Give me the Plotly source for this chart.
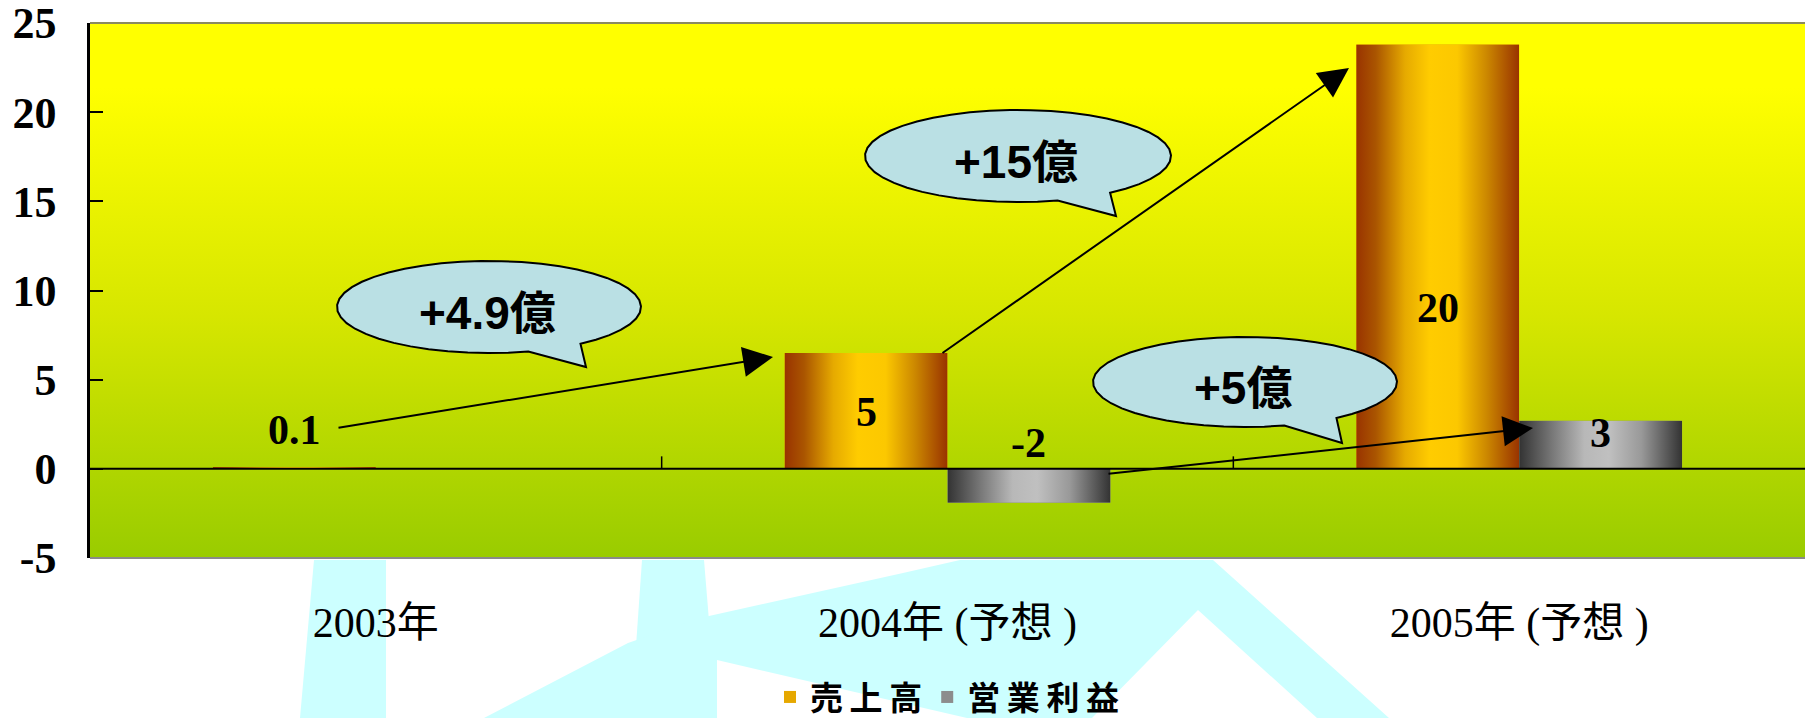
import base64
import math
import plotly.graph_objects as go

# ---------------- data ----------------
categories = ["2003年", "2004年 (予想 )", "2005年 (予想 )"]
series_names = ["売\u2009上\u2009高", "営\u2009業\u2009利\u2009益"]
sales = [0.1, 6.5, 23.8]
profit = [None, -1.9, 2.7]
sales_labels = ["0.1", "5", "20"]
profit_labels = ["", "-2", "3"]
callout_texts = ["+4.9億", "+15億", "+5億"]
y_ticks = [-5, 0, 5, 10, 15, 20, 25]
y_tick_text = ["-5", "0", "5", "10", "15", "20", "25"]

# ---------------- geometry / style ----------------
W, H = 1805, 718
L, R, T, B = 90, 0, 23, 160
PW, PH = W - L - R, H - T - B
XR = (-0.5, 2.5)
YR = (-5, 25)
BARGAP = 0.43
BW = (1 - BARGAP) / 2  # width of one bar in category units

SERIF = "Liberation Serif, 'Times New Roman', 'Noto Sans CJK JP', serif"
SANS = "'Liberation Sans', Arial, 'Noto Sans CJK JP', sans-serif"


def dx(px):
    return XR[0] + (px - L) / PW * (XR[1] - XR[0])


def dy(py):
    return YR[1] - (py - T) / PH * (YR[1] - YR[0])


def ppx(px):
    return (px - L) / PW


def ppy(py):
    return (H - B - py) / PH


def grad_uri(stops, horizontal=True):
    x2, y2 = ("1", "0") if horizontal else ("0", "1")
    s = ('<svg xmlns="http://www.w3.org/2000/svg" width="100" height="100" '
         'viewBox="0 0 100 100" preserveAspectRatio="none"><defs>'
         f'<linearGradient id="g" x1="0" y1="0" x2="{x2}" y2="{y2}">')
    s += "".join(f'<stop offset="{o}" stop-color="{c}"/>' for o, c in stops)
    s += '</linearGradient></defs><rect x="0" y="0" width="100" height="100" fill="url(#g)"/></svg>'
    return "data:image/svg+xml;base64," + base64.b64encode(s.encode()).decode()


bg_grad = grad_uri([(0, "#FFFF00"), (0.12, "#FFFF00"), (0.55, "#D6E600"), (1, "#99CC00")], horizontal=False)
gold_grad = grad_uri([(0, "#993300"), (0.12, "#AA5500"), (0.3, "#E6AA00"), (0.45, "#FFCC00"),
                      (0.62, "#FCC800"), (0.8, "#CC8800"), (1, "#993300")])
gray_grad = grad_uri([(0, "#333333"), (0.2, "#777777"), (0.4, "#B8B8B8"), (0.55, "#C0C0C0"),
                      (0.75, "#999999"), (1, "#333333")])

x_idx = list(range(len(categories)))

fig = go.Figure()
fig.add_bar(x=x_idx, y=sales, name=series_names[0], marker=dict(color="#E6A800", line_width=0))
fig.add_bar(x=x_idx, y=profit, name=series_names[1], marker=dict(color="#8C8C8C", line_width=0))

images = [dict(source=bg_grad, xref="paper", yref="paper", x=0, y=1, sizex=1, sizey=1,
               xanchor="left", yanchor="top", sizing="stretch", layer="below")]
for i, v in enumerate(sales):
    if v:
        images.append(dict(source=gold_grad, xref="x", yref="y", x=i - BW, y=max(v, 0),
                           sizex=BW, sizey=abs(v), xanchor="left", yanchor="top",
                           sizing="stretch", layer="above"))
for i, v in enumerate(profit):
    if v:
        images.append(dict(source=gray_grad, xref="x", yref="y", x=i, y=max(v, 0),
                           sizex=BW, sizey=abs(v), xanchor="left", yanchor="top",
                           sizing="stretch", layer="above"))

shapes = []
# watermark (light cyan) in the bottom margin
wm_polys = [
    [(314, 560), (386, 560), (386, 718), (300, 718)],
    [(642, 560), (704, 560), (717, 718), (631, 718)],
    [(484, 718), (628, 643), (700, 618), (903, 573), (960, 560), (1213, 560), (1389, 718),
     (1317, 718), (1198, 610), (1092, 718), (967, 718), (717, 660), (717, 718)],
]
for poly in wm_polys:
    path = "M" + " L".join(f"{ppx(a):.5f},{ppy(b):.5f}" for a, b in poly) + " Z"
    shapes.append(dict(type="path", path=path, xref="paper", yref="paper",
                       fillcolor="#CCFFFF", line=dict(width=0), layer="below"))

# plot frame lines
shapes.append(dict(type="line", xref="paper", yref="paper", x0=0, x1=1, y0=1, y1=1,
                   line=dict(color="#8A8A60", width=2), layer="above"))
shapes.append(dict(type="line", xref="paper", yref="paper", x0=0, x1=1, y0=0, y1=0,
                   line=dict(color="#8A8A8A", width=2), layer="above"))
# zero line and category separator ticks
shapes.append(dict(type="line", xref="paper", yref="y", x0=0, x1=1, y0=0, y1=0,
                   line=dict(color="black", width=2), layer="above"))
for k in range(1, len(categories)):
    shapes.append(dict(type="line", xref="x", yref="y", x0=k - 0.5, x1=k - 0.5, y0=0, y1=0.7,
                       line=dict(color="black", width=1.5), layer="above"))


def bubble_path(cx, cy, rx, ry, tip, t1=53, t2=75, n=44):
    pts = []
    for j in range(n + 1):
        a = math.radians(t2 + (360 - (t2 - t1)) * j / n)
        pts.append((cx + rx * math.cos(a), cy + ry * math.sin(a)))
    pts.append(tip)
    return "M" + " L".join(f"{dx(a):.5f},{dy(b):.5f}" for a, b in pts) + " Z"


bubbles = [  # cx, cy, rx, ry, tip  (pixel layout of callouts)
    (489, 307, 152, 46, (586, 367)),
    (1018, 156, 153, 46, (1116, 216)),
    (1245, 382, 152, 45, (1342, 443)),
]
annotations = []
for (cx, cy, rx, ry, tip), txt in zip(bubbles, callout_texts):
    shapes.append(dict(type="path", path=bubble_path(cx, cy, rx, ry, tip), xref="x", yref="y",
                       fillcolor="#BAE0E4", line=dict(color="black", width=2), layer="above"))
    annotations.append(dict(x=dx(cx - 2), y=dy(cy + 6), xref="x", yref="y", text=f"<b>{txt}</b>",
                            showarrow=False, font=dict(family=SANS, size=46, color="black")))

# arrows (start -> tip), pixel layout
arrows = [((337, 428), (773, 357)), ((941, 354), (1349, 68)), ((1107, 474), (1533, 428))]
for (sx, sy), (tx, ty) in arrows:
    annotations.append(dict(x=dx(tx), y=dy(ty), ax=dx(sx), ay=dy(sy), xref="x", yref="y",
                            axref="x", ayref="y", text="", showarrow=True, arrowhead=2,
                            arrowsize=3, arrowwidth=2, arrowcolor="black", standoff=0))

# value labels
sales_label_y = [2.2, 3.2, 9.0]
profit_label_y = [None, 1.45, 2.0]
for i, (t, yy) in enumerate(zip(sales_labels, sales_label_y)):
    if t:
        annotations.append(dict(x=i - BW / 2, y=yy, xref="x", yref="y", text=f"<b>{t}</b>",
                                showarrow=False, font=dict(family=SERIF, size=42, color="black")))
for i, (t, yy) in enumerate(zip(profit_labels, profit_label_y)):
    if t:
        annotations.append(dict(x=i + BW / 2, y=yy, xref="x", yref="y", text=f"<b>{t}</b>",
                                showarrow=False, font=dict(family=SERIF, size=42, color="black")))

fig.update_layout(
    width=W, height=H,
    margin=dict(l=L, r=R, t=T, b=B, pad=0, autoexpand=False),
    paper_bgcolor="white", plot_bgcolor="rgba(0,0,0,0)",
    barmode="group", bargap=BARGAP, bargroupgap=0,
    images=images, shapes=shapes, annotations=annotations,
    showlegend=True,
    legend=dict(orientation="h", x=0.5, xanchor="center", y=ppy(697), yanchor="middle",
                font=dict(family=SANS, size=33, color="black", weight="bold"),
                bgcolor="rgba(0,0,0,0)", itemsizing="constant", traceorder="normal"),
    xaxis=dict(range=list(XR), tickvals=x_idx, ticktext=categories, showgrid=False,
               zeroline=False, showline=False, ticks="", ticklabelstandoff=36, automargin=False,
               ticklabeloverflow="allow",
               tickfont=dict(family=SERIF, size=42, color="black"), fixedrange=True),
    yaxis=dict(range=list(YR), tickvals=y_ticks, ticktext=y_tick_text, showgrid=False,
               zeroline=False, automargin=False, ticklabeloverflow="allow",
               showline=True, linecolor="black", linewidth=2.5, ticks="inside", ticklen=13,
               tickwidth=2, tickcolor="black", ticklabelstandoff=22,
               tickfont=dict(family=SERIF, size=44, color="black", weight="bold"), fixedrange=True),
)

fig.write_html(
    "out.html",
    config={"displayModeBar": False},
    post_script="document.body.style.margin='0';document.body.style.overflow='hidden';",
)
